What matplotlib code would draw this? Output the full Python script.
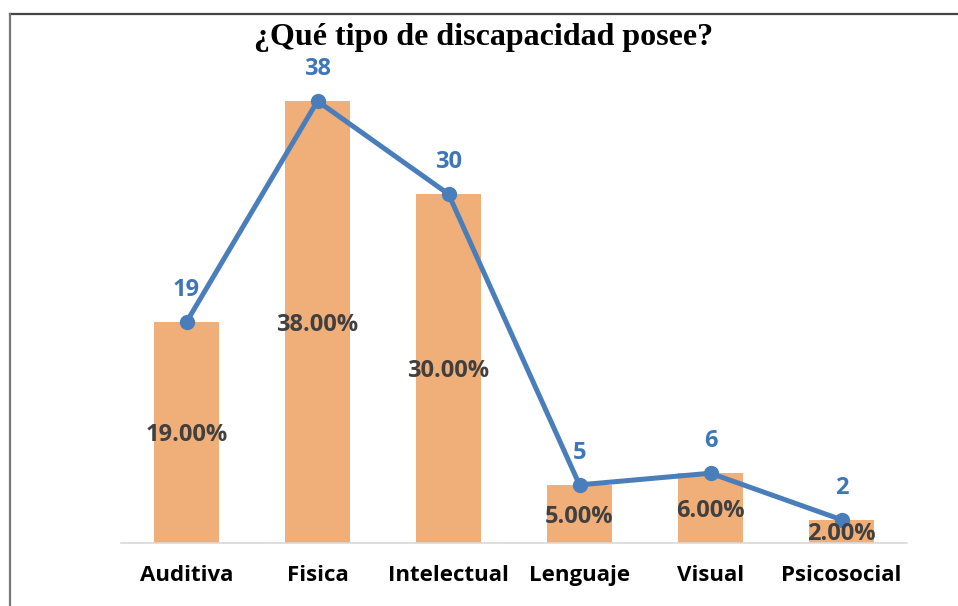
import matplotlib.pyplot as plt

categorias = ["Auditiva", "Fisica", "Intelectual", "Lenguaje", "Visual", "Psicosocial"]
cantidad = [19, 38, 30, 5, 6, 2]
porcentaje = [19.00, 38.00, 30.00, 5.00, 6.00, 2.00]

W, H = 958, 606
fig = plt.figure(figsize=(W / 100, H / 100), dpi=100)
fig.patch.set_facecolor("white")

# marco de la imagen (solo arriba y a la izquierda)
fig.add_artist(plt.Line2D([9.5 / W, 1], [1 - 13.5 / H, 1 - 13.5 / H], color="#444444", lw=1.6))
fig.add_artist(plt.Line2D([9.5 / W, 9.5 / W], [0, 1 - 13.5 / H], color="#777777", lw=1.6))

ax = fig.add_axes([121 / W, (H - 543) / H, (907 - 121) / W, (543 - 50) / H])
x = range(len(categorias))

ax.bar(x, cantidad, width=0.5, color="#F0AE79", zorder=2)
ax.plot(x, cantidad, color="#4A7EBB", lw=3.6, marker="o", markersize=10, zorder=3)

for i, (c, p) in enumerate(zip(cantidad, porcentaje)):
    ax.annotate(str(c), (i, c), xytext=(0, 23), textcoords="offset points",
                ha="center", va="center", fontsize=17, fontweight="bold",
                color="#3F76B8", family="Open Sans")
    ax.annotate(f"{p:.2f}%", (i, c / 2), xytext=(0, -2), textcoords="offset points",
                ha="center", va="center", fontsize=17, fontweight="bold",
                color="#404040", family="Open Sans", zorder=4)

ax.set_xlim(-0.5, len(categorias) - 0.5)
ax.set_ylim(0, 493 / 11.63)
ax.set_xticks(list(x))
ax.set_xticklabels(categorias, fontsize=16, fontweight="bold", family="Open Sans")
ax.tick_params(axis="x", length=0, pad=16)
ax.set_yticks([])
for s in ["top", "right", "left"]:
    ax.spines[s].set_visible(False)
ax.spines["bottom"].set_color("#D9D9D9")
ax.spines["bottom"].set_linewidth(1.2)

fig.text(484 / W, 1 - 37 / H, "¿Qué tipo de discapacidad posee?", ha="center", va="center",
         fontsize=23, fontweight="bold", family="Liberation Serif")

fig.savefig("out.png", dpi=100)
